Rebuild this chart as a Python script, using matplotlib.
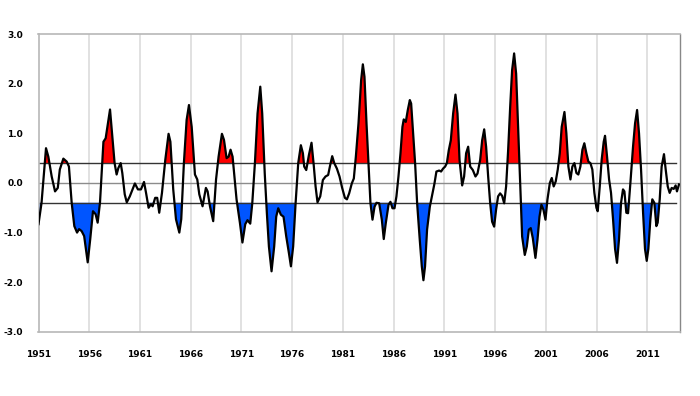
import numpy as np
import matplotlib
matplotlib.use('Agg')
import matplotlib.pyplot as plt

# index value (decimal year, value)
years = [
    1951.0, 1951.3, 1951.74, 1951.97, 1952.3, 1952.63, 1952.9, 1953.1, 1953.45, 1953.78,
    1954.0, 1954.27, 1954.53, 1954.8, 1955.0, 1955.25, 1955.5, 1955.85, 1956.1, 1956.37,
    1956.63, 1956.83, 1957.06, 1957.4, 1957.62, 1958.05, 1958.3, 1958.5, 1958.7, 1958.87,
    1959.1, 1959.26, 1959.5, 1959.7, 1960.0, 1960.5, 1960.8, 1961.1, 1961.4, 1961.6,
    1961.85, 1962.08, 1962.25, 1962.5, 1962.7, 1962.9, 1963.17, 1963.5, 1963.82, 1964.0,
    1964.28, 1964.55, 1964.88, 1965.07, 1965.33, 1965.6, 1965.83, 1966.1, 1966.42, 1966.65,
    1966.85, 1967.17, 1967.5, 1967.67, 1967.9, 1968.22, 1968.5, 1968.75, 1969.08, 1969.28,
    1969.54, 1969.74, 1969.93, 1970.13, 1970.52, 1970.85, 1971.1, 1971.38, 1971.6, 1971.87,
    1972.07, 1972.33, 1972.59, 1972.86, 1973.05, 1973.3, 1973.51, 1973.71, 1973.97, 1974.23,
    1974.43, 1974.63, 1974.89, 1975.15, 1975.42, 1975.68, 1975.88, 1976.1, 1976.34, 1976.6,
    1976.86, 1977.06, 1977.19, 1977.39, 1977.65, 1977.91, 1978.11, 1978.31, 1978.5, 1978.77,
    1979.03, 1979.29, 1979.55, 1979.75, 1979.95, 1980.15, 1980.41, 1980.67, 1980.93, 1981.2,
    1981.4, 1981.62, 1981.88, 1982.08, 1982.28, 1982.54, 1982.8, 1982.97, 1983.13, 1983.33,
    1983.52, 1983.72, 1983.92, 1984.12, 1984.31, 1984.58, 1984.84, 1985.03, 1985.23, 1985.5,
    1985.69, 1985.89, 1986.09, 1986.28, 1986.48, 1986.68, 1986.87, 1987.0, 1987.2, 1987.4,
    1987.6, 1987.73, 1987.92, 1988.12, 1988.32, 1988.58, 1988.78, 1988.94, 1989.1, 1989.3,
    1989.57, 1989.83, 1990.03, 1990.22, 1990.49, 1990.68, 1990.88, 1991.08, 1991.25, 1991.44,
    1991.64, 1991.87, 1992.1, 1992.3, 1992.5, 1992.76, 1992.95, 1993.15, 1993.35, 1993.55,
    1993.81, 1994.07, 1994.27, 1994.53, 1994.73, 1994.93, 1995.12, 1995.32, 1995.52, 1995.71,
    1995.91, 1996.1, 1996.3, 1996.5, 1996.7, 1996.9, 1997.09, 1997.29, 1997.49, 1997.68,
    1997.88, 1998.08, 1998.27, 1998.47, 1998.67, 1998.93, 1999.13, 1999.33, 1999.52, 1999.72,
    1999.98, 2000.18, 2000.38, 2000.57, 2000.77, 2000.97, 2001.16, 2001.4, 2001.59, 2001.78,
    2001.98, 2002.18, 2002.38, 2002.57, 2002.84, 2003.03, 2003.23, 2003.43, 2003.62, 2003.82,
    2004.02, 2004.21, 2004.41, 2004.61, 2004.8, 2005.0, 2005.2, 2005.4, 2005.59, 2005.79,
    2005.99, 2006.12, 2006.32, 2006.51, 2006.71, 2006.84, 2007.04, 2007.24, 2007.43, 2007.63,
    2007.83, 2008.02, 2008.22, 2008.42, 2008.61, 2008.75, 2008.94, 2009.11, 2009.34, 2009.6,
    2009.8, 2010.0, 2010.19, 2010.39, 2010.59, 2010.78, 2010.95, 2011.11, 2011.31, 2011.5,
    2011.7, 2011.9, 2012.03, 2012.23, 2012.42, 2012.65, 2012.82, 2013.02, 2013.21, 2013.41,
    2013.61, 2013.8, 2013.93, 2014.13,
]
values = [
    -0.83, -0.40, 0.70, 0.53, 0.13, -0.17, -0.10, 0.27, 0.49, 0.43,
    0.33, -0.40, -0.87, -1.00, -0.93, -0.97, -1.07, -1.60, -1.13, -0.57,
    -0.63, -0.80, -0.40, 0.83, 0.90, 1.48, 0.87, 0.40, 0.17, 0.30,
    0.40, 0.20, -0.23, -0.39, -0.27, -0.01, -0.13, -0.13, 0.02, -0.20,
    -0.50, -0.43, -0.47, -0.30, -0.30, -0.60, -0.20, 0.47, 0.99, 0.83,
    -0.13, -0.73, -1.00, -0.73, 0.40, 1.27, 1.57, 1.13, 0.17, 0.07,
    -0.23, -0.47, -0.10, -0.17, -0.47, -0.77, 0.07, 0.53, 0.99, 0.87,
    0.50, 0.53, 0.67, 0.53, -0.33, -0.80, -1.20, -0.83, -0.75, -0.82,
    -0.41, 0.40, 1.40, 1.94, 1.40, 0.19, -0.61, -1.28, -1.78, -1.28,
    -0.68, -0.51, -0.64, -0.68, -1.08, -1.41, -1.68, -1.28, -0.41, 0.40,
    0.76, 0.60, 0.33, 0.26, 0.56, 0.81, 0.40, -0.07, -0.39, -0.27,
    0.06, 0.13, 0.16, 0.36, 0.54, 0.40, 0.29, 0.13, -0.10, -0.30,
    -0.33, -0.21, -0.01, 0.09, 0.53, 1.20, 2.07, 2.39, 2.14, 1.20,
    0.40, -0.41, -0.74, -0.48, -0.40, -0.41, -0.74, -1.13, -0.81, -0.44,
    -0.38, -0.51, -0.51, -0.27, 0.13, 0.60, 1.13, 1.28, 1.23, 1.47,
    1.67, 1.60, 1.00, 0.40, -0.41, -1.15, -1.68, -1.96, -1.68, -0.94,
    -0.48, -0.21, -0.01, 0.23, 0.25, 0.23, 0.29, 0.33, 0.40, 0.66,
    0.86, 1.40, 1.78, 1.40, 0.46, -0.05, 0.13, 0.60, 0.73, 0.33,
    0.26, 0.13, 0.19, 0.46, 0.86, 1.08, 0.73, 0.13, -0.41, -0.78,
    -0.88, -0.54, -0.27, -0.21, -0.26, -0.41, -0.07, 0.66, 1.53, 2.27,
    2.61, 2.20, 1.13, -0.01, -1.08, -1.45, -1.28, -0.94, -0.91, -1.11,
    -1.51, -1.15, -0.68, -0.44, -0.54, -0.74, -0.34, 0.00, 0.10, -0.07,
    0.03, 0.27, 0.60, 1.13, 1.43, 1.00, 0.33, 0.07, 0.33, 0.40,
    0.20, 0.17, 0.33, 0.67, 0.80, 0.60, 0.43, 0.40, 0.27, -0.20,
    -0.50, -0.57, -0.07, 0.47, 0.83, 0.95, 0.53, 0.07, -0.20, -0.73,
    -1.33, -1.61, -1.13, -0.40, -0.13, -0.17, -0.60, -0.61, 0.00, 0.73,
    1.20, 1.47, 1.00, 0.27, -0.60, -1.33, -1.57, -1.33, -0.73, -0.33,
    -0.40, -0.87, -0.80, -0.33, 0.33, 0.58, 0.27, -0.07, -0.20, -0.10,
    -0.12, -0.05, -0.17, -0.03,
]
threshold = 0.4
x_ticks = list(range(1951, 2012, 5))
y_ticks = [3.0, 2.0, 1.0, 0.0, -1.0, -2.0, -3.0]

t = np.array(years)
v = np.array(values)

fig = plt.figure(figsize=(7, 3.96), dpi=100)
ax = fig.add_axes([0.055, 0.162, 0.916, 0.752])

for xt in x_ticks[1:]:
    ax.axvline(xt, color='#dcdcdc', lw=1.2, zorder=0)

ax.fill_between(t, threshold, v, where=v >= threshold, interpolate=True,
                color='#ff0000', lw=0, zorder=1)
ax.fill_between(t, -threshold, v, where=v <= -threshold, interpolate=True,
                color='#0055ff', lw=0, zorder=1)

ax.axhline(0, color='#8c8c8c', lw=1.0, zorder=2)
ax.axhline(threshold, xmax=0.995, color='#333333', lw=1.0, zorder=2)
ax.axhline(-threshold, xmax=0.995, color='#333333', lw=1.0, zorder=2)

ax.plot(t, v, color='black', lw=1.6, zorder=3)

ax.set_xlim(1951, 2014.2)
ax.set_ylim(-3, 3)
ax.set_xticks(x_ticks)
ax.set_xticklabels([str(x) for x in x_ticks], fontsize=6.5, fontweight='bold')
ax.set_yticks(y_ticks)
ax.set_yticklabels(['%.1f' % y for y in y_ticks], fontsize=6.5, fontweight='bold')
ax.tick_params(length=0)
ax.tick_params(axis='x', pad=13)
ax.tick_params(axis='y', pad=11)

for side in ['left', 'top', 'bottom']:
    ax.spines[side].set_color('#b8b8b8')
    ax.spines[side].set_linewidth(1.2)
ax.spines['right'].set_color('#888888')
ax.spines['right'].set_linewidth(1.0)

fig.savefig('out.png', dpi=100)
